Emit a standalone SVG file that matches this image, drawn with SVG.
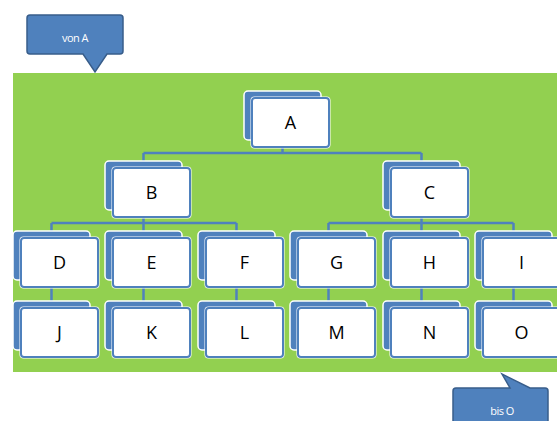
<svg xmlns="http://www.w3.org/2000/svg" width="557" height="421" viewBox="0 0 557 421">
<defs>
<style>
.bg{fill:#92d050}
.back{fill:#4f81bd;stroke:#fff;stroke-width:1.5}
.halo{fill:#fff}
.front{fill:#fff;stroke:#4f81bd;stroke-width:2}
.lbl{font-family:"Open Sans","Liberation Sans",sans-serif;font-size:18px;fill:#000;text-anchor:middle}
.conn{fill:none;stroke:#4f81bd;stroke-width:2.5}
.call{fill:#4f81bd;stroke:#385d8a;stroke-width:1.5}
.ctxt{font-family:"Open Sans","Liberation Sans",sans-serif;font-size:11px;fill:#fff;text-anchor:middle;letter-spacing:-0.5px}
</style>
</defs>
<rect width="557" height="421" fill="#fff"/>
<rect class="bg" x="13" y="73" width="544" height="299"/>
<g id="callout-von-a">
<path class="call" d="M30 15 H120 Q123 15 123 18 V51 Q123 54 120 54 H107 L95 72 L83 54 H30 Q27 54 27 51 V18 Q27 15 30 15 Z"/>
<text class="ctxt" x="75" y="42">von A</text>
</g>
<g id="callout-bis-o">
<path class="call" d="M456 388 H510 L502 374 L530 388 H545 Q548 388 548 391 V430 H453 V391 Q453 388 456 388 Z"/>
<text class="ctxt" x="502" y="415">bis O</text>
</g>
<g id="connectors">
<path class="conn" d="M282.5 147 V153 M143.5 153 H421.5 M143.5 153 V161 M421.5 153 V161"/>
<path class="conn" d="M143.5 217 V223 M51.5 223 H236.5 M51.5 223 V231 M143.5 223 V231 M236.5 223 V231"/>
<path class="conn" d="M421.5 217 V223 M328.5 223 H513.5 M328.5 223 V231 M421.5 223 V231 M513.5 223 V231"/>
<path class="conn" d="M51.5 287 V301 M143.5 287 V301 M236.5 287 V301 M328.5 287 V301 M421.5 287 V301 M513.5 287 V301"/>
</g>
<g id="node-A"><rect class="back" x="244" y="91" width="77" height="49" rx="4"/><rect class="halo" x="250.5" y="96.5" width="80" height="52" rx="4"/><rect class="front" x="252" y="98" width="77" height="49" rx="3"/><text class="lbl" x="290.5" y="129">A</text></g>
<g id="node-B"><rect class="back" x="105" y="161" width="77" height="49" rx="4"/><rect class="halo" x="111.5" y="166.5" width="80" height="52" rx="4"/><rect class="front" x="113" y="168" width="77" height="49" rx="3"/><text class="lbl" x="151.5" y="199">B</text></g>
<g id="node-C"><rect class="back" x="383" y="161" width="77" height="49" rx="4"/><rect class="halo" x="389.5" y="166.5" width="80" height="52" rx="4"/><rect class="front" x="391" y="168" width="77" height="49" rx="3"/><text class="lbl" x="429.5" y="199">C</text></g>
<g id="node-D"><rect class="back" x="13" y="231" width="77" height="49" rx="4"/><rect class="halo" x="19.5" y="236.5" width="80" height="52" rx="4"/><rect class="front" x="21" y="238" width="77" height="49" rx="3"/><text class="lbl" x="59.5" y="269">D</text></g>
<g id="node-E"><rect class="back" x="105" y="231" width="77" height="49" rx="4"/><rect class="halo" x="111.5" y="236.5" width="80" height="52" rx="4"/><rect class="front" x="113" y="238" width="77" height="49" rx="3"/><text class="lbl" x="151.5" y="269">E</text></g>
<g id="node-F"><rect class="back" x="198" y="231" width="77" height="49" rx="4"/><rect class="halo" x="204.5" y="236.5" width="80" height="52" rx="4"/><rect class="front" x="206" y="238" width="77" height="49" rx="3"/><text class="lbl" x="244.5" y="269">F</text></g>
<g id="node-G"><rect class="back" x="290" y="231" width="77" height="49" rx="4"/><rect class="halo" x="296.5" y="236.5" width="80" height="52" rx="4"/><rect class="front" x="298" y="238" width="77" height="49" rx="3"/><text class="lbl" x="336.5" y="269">G</text></g>
<g id="node-H"><rect class="back" x="383" y="231" width="77" height="49" rx="4"/><rect class="halo" x="389.5" y="236.5" width="80" height="52" rx="4"/><rect class="front" x="391" y="238" width="77" height="49" rx="3"/><text class="lbl" x="429.5" y="269">H</text></g>
<g id="node-I"><rect class="back" x="475" y="231" width="77" height="49" rx="4"/><rect class="halo" x="481.5" y="236.5" width="80" height="52" rx="4"/><rect class="front" x="483" y="238" width="77" height="49" rx="3"/><text class="lbl" x="521.5" y="269">I</text></g>
<g id="node-J"><rect class="back" x="13" y="301" width="77" height="49" rx="4"/><rect class="halo" x="19.5" y="306.5" width="80" height="52" rx="4"/><rect class="front" x="21" y="308" width="77" height="49" rx="3"/><text class="lbl" x="59.5" y="339">J</text></g>
<g id="node-K"><rect class="back" x="105" y="301" width="77" height="49" rx="4"/><rect class="halo" x="111.5" y="306.5" width="80" height="52" rx="4"/><rect class="front" x="113" y="308" width="77" height="49" rx="3"/><text class="lbl" x="151.5" y="339">K</text></g>
<g id="node-L"><rect class="back" x="198" y="301" width="77" height="49" rx="4"/><rect class="halo" x="204.5" y="306.5" width="80" height="52" rx="4"/><rect class="front" x="206" y="308" width="77" height="49" rx="3"/><text class="lbl" x="244.5" y="339">L</text></g>
<g id="node-M"><rect class="back" x="290" y="301" width="77" height="49" rx="4"/><rect class="halo" x="296.5" y="306.5" width="80" height="52" rx="4"/><rect class="front" x="298" y="308" width="77" height="49" rx="3"/><text class="lbl" x="336.5" y="339">M</text></g>
<g id="node-N"><rect class="back" x="383" y="301" width="77" height="49" rx="4"/><rect class="halo" x="389.5" y="306.5" width="80" height="52" rx="4"/><rect class="front" x="391" y="308" width="77" height="49" rx="3"/><text class="lbl" x="429.5" y="339">N</text></g>
<g id="node-O"><rect class="back" x="475" y="301" width="77" height="49" rx="4"/><rect class="halo" x="481.5" y="306.5" width="80" height="52" rx="4"/><rect class="front" x="483" y="308" width="77" height="49" rx="3"/><text class="lbl" x="521.5" y="339">O</text></g>
</svg>
